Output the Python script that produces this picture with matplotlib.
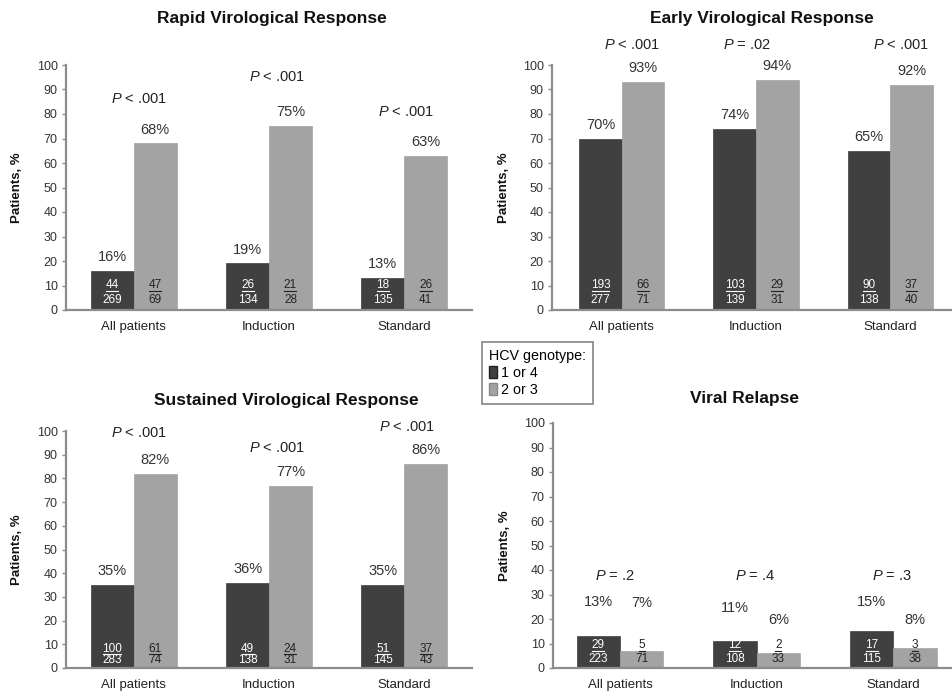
import matplotlib
matplotlib.use("Agg")
import matplotlib.pyplot as plt
from matplotlib.patches import Patch
from matplotlib.transforms import offset_copy

plt.rcParams['font.family'] = ['Liberation Sans', 'DejaVu Sans']
plt.rcParams['mathtext.fontset'] = 'custom'
plt.rcParams['mathtext.rm'] = 'Liberation Sans'
plt.rcParams['mathtext.it'] = 'Liberation Sans:italic'

categories = ["All patients", "Induction", "Standard"]

rvr_g14 = [16, 19, 13]
rvr_g23 = [68, 75, 63]
rvr_num14 = [44, 26, 18]
rvr_den14 = [269, 134, 135]
rvr_num23 = [47, 21, 26]
rvr_den23 = [69, 28, 41]
rvr_p = ["< .001", "< .001", "< .001"]

evr_g14 = [70, 74, 65]
evr_g23 = [93, 94, 92]
evr_num14 = [193, 103, 90]
evr_den14 = [277, 139, 138]
evr_num23 = [66, 29, 37]
evr_den23 = [71, 31, 40]
evr_p = ["< .001", "= .02", "< .001"]

svr_g14 = [35, 36, 35]
svr_g23 = [82, 77, 86]
svr_num14 = [100, 49, 51]
svr_den14 = [283, 138, 145]
svr_num23 = [61, 24, 37]
svr_den23 = [74, 31, 43]
svr_p = ["< .001", "< .001", "< .001"]

rel_g14 = [13, 11, 15]
rel_g23 = [7, 6, 8]
rel_num14 = [29, 12, 17]
rel_den14 = [223, 108, 115]
rel_num23 = [5, 2, 3]
rel_den23 = [71, 33, 38]
rel_p = ["= .2", "= .4", "= .3"]

DARK = "#404040"
LIGHT = "#a3a3a3"
SPINE = "#8c8c8c"
TXT = "#333333"
W = 0.317

fig = plt.figure(figsize=(9.52, 6.96), dpi=100)

panels = [
    dict(title="Rapid Virological Response", txy=(272, 18),
         rect=[66 / 952, 1 - 310 / 696, 406 / 952, 245 / 696], xlim=(-0.5, 2.5),
         g14=rvr_g14, g23=rvr_g23, n14=rvr_num14, d14=rvr_den14, n23=rvr_num23, d23=rvr_den23,
         p=rvr_p, px=[0.04, 0.06, 0.01], py=[86, 95, 81], pcty=None, frac=(18, 7)),
    dict(title="Early Virological Response", txy=(762, 18),
         rect=[552 / 952, 1 - 310 / 696, 400 / 952, 245 / 696], xlim=(-0.52, 2.46),
         g14=evr_g14, g23=evr_g23, n14=evr_num14, d14=evr_den14, n23=evr_num23, d23=evr_den23,
         p=evr_p, px=[0.08, -0.07, 0.08], py=[108, 108, 108], pcty=None, frac=(18, 7)),
    dict(title="Sustained Virological Response", txy=(286, 400),
         rect=[66 / 952, 1 - 668 / 696, 406 / 952, 237 / 696], xlim=(-0.5, 2.5),
         g14=svr_g14, g23=svr_g23, n14=svr_num14, d14=svr_den14, n23=svr_num23, d23=svr_den23,
         p=svr_p, px=[0.04, 0.06, 0.02], py=[99, 93, 101.5], pcty=None, frac=(14, 5.5)),
    dict(title="Viral Relapse", txy=(745, 398),
         rect=[553 / 952, 1 - 668 / 696, 399 / 952, 245 / 696], xlim=(-0.49, 2.43),
         g14=rel_g14, g23=rel_g23, n14=rel_num14, d14=rel_den14, n23=rel_num23, d23=rel_den23,
         p=rel_p, px=[-0.04, -0.01, -0.01], py=[37.5, 37.5, 37.5],
         pcty=([27, 24.5, 27], [26.5, 19.5, 19.5]), frac=(16.5, 6.5)),
]

for pn in panels:
    ax = fig.add_axes(pn["rect"])
    x = list(range(len(categories)))
    x14 = [i - W / 2 for i in x]
    x23 = [i + W / 2 for i in x]
    ax.bar(x14, pn["g14"], W, color=DARK, edgecolor=DARK, linewidth=0.5)
    ax.bar(x23, pn["g23"], W, color=LIGHT, edgecolor=LIGHT, linewidth=0.5)
    ax.set_xlim(*pn["xlim"])
    ax.set_ylim(0, 100)
    ax.set_yticks(range(0, 101, 10))
    ax.set_xticks(x)
    ax.set_xticklabels(categories, fontsize=9.5, color="#222222")
    ax.tick_params(axis="x", length=0, pad=8)
    ax.tick_params(axis="y", direction="out", length=3, width=1, color=SPINE,
                   labelsize=9, labelcolor=TXT, pad=3)
    for s in ("top", "right"):
        ax.spines[s].set_visible(False)
    for s in ("left", "bottom"):
        ax.spines[s].set_color(SPINE)
        ax.spines[s].set_linewidth(1.6)
    ax.set_ylabel("Patients, %", fontsize=9.5, fontweight="bold", color="#111111")
    ax.yaxis.set_label_coords(-0.106, 0.5)

    fig.text(pn["txy"][0] / 952, 1 - pn["txy"][1] / 696, pn["title"],
             ha="center", va="center", fontsize=12.5, fontweight="bold", color="#111111")

    uline = offset_copy(ax.transData, fig=fig, x=0, y=pn["frac"][0] - 4.0, units="points")
    for i in x:
        # percentages
        for j, (xs, vals) in enumerate(((x14, pn["g14"]), (x23, pn["g23"]))):
            if pn["pcty"] is None:
                ax.annotate(f"{vals[i]}%", (xs[i], vals[i]), xytext=(0, 10),
                            textcoords="offset points", ha="center", va="center",
                            fontsize=10.5, color=TXT)
            else:
                ax.text(xs[i], pn["pcty"][j][i], f"{vals[i]}%", ha="center", va="center",
                        fontsize=10.5, color=TXT)
        # fractions inside bars (underlined numerator)
        for xs, nums, dens, col in ((x14, pn["n14"], pn["d14"], "white"),
                                    (x23, pn["n23"], pn["d23"], "#222222")):
            ax.annotate(f"{nums[i]}", (xs[i], 0), xytext=(0, pn["frac"][0]),
                        textcoords="offset points", ha="center", va="center",
                        fontsize=8.5, color=col)
            hw = 0.022 * len(str(nums[i]))
            ax.plot([xs[i] - hw, xs[i] + hw], [0, 0], color=col, lw=0.8,
                    transform=uline, clip_on=False)
            ax.annotate(f"{dens[i]}", (xs[i], 0), xytext=(0, pn["frac"][1]),
                        textcoords="offset points", ha="center", va="center",
                        fontsize=8.5, color=col)
        # P values
        ax.text(i + pn["px"][i], pn["py"][i], r"$P$ " + pn["p"][i], ha="center", va="center",
                fontsize=10.5, color="#222222", clip_on=False)

handles = [Patch(facecolor=DARK, edgecolor="#222222", label="1 or 4"),
           Patch(facecolor=LIGHT, edgecolor="#888888", label="2 or 3")]
leg = fig.legend(handles=handles, title="HCV genotype:", loc="upper left",
                 bbox_to_anchor=(482 / 952, 1 - 342 / 696), borderaxespad=0,
                 fontsize=10.3, title_fontsize=10.3,
                 frameon=True, fancybox=False, edgecolor="#666666", handlelength=0.55,
                 handleheight=0.9, handletextpad=0.25, borderpad=0.5, labelspacing=0.2,
                 alignment="left")
leg.get_frame().set_linewidth(1.2)

fig.savefig("out.png", dpi=100, facecolor="white")
